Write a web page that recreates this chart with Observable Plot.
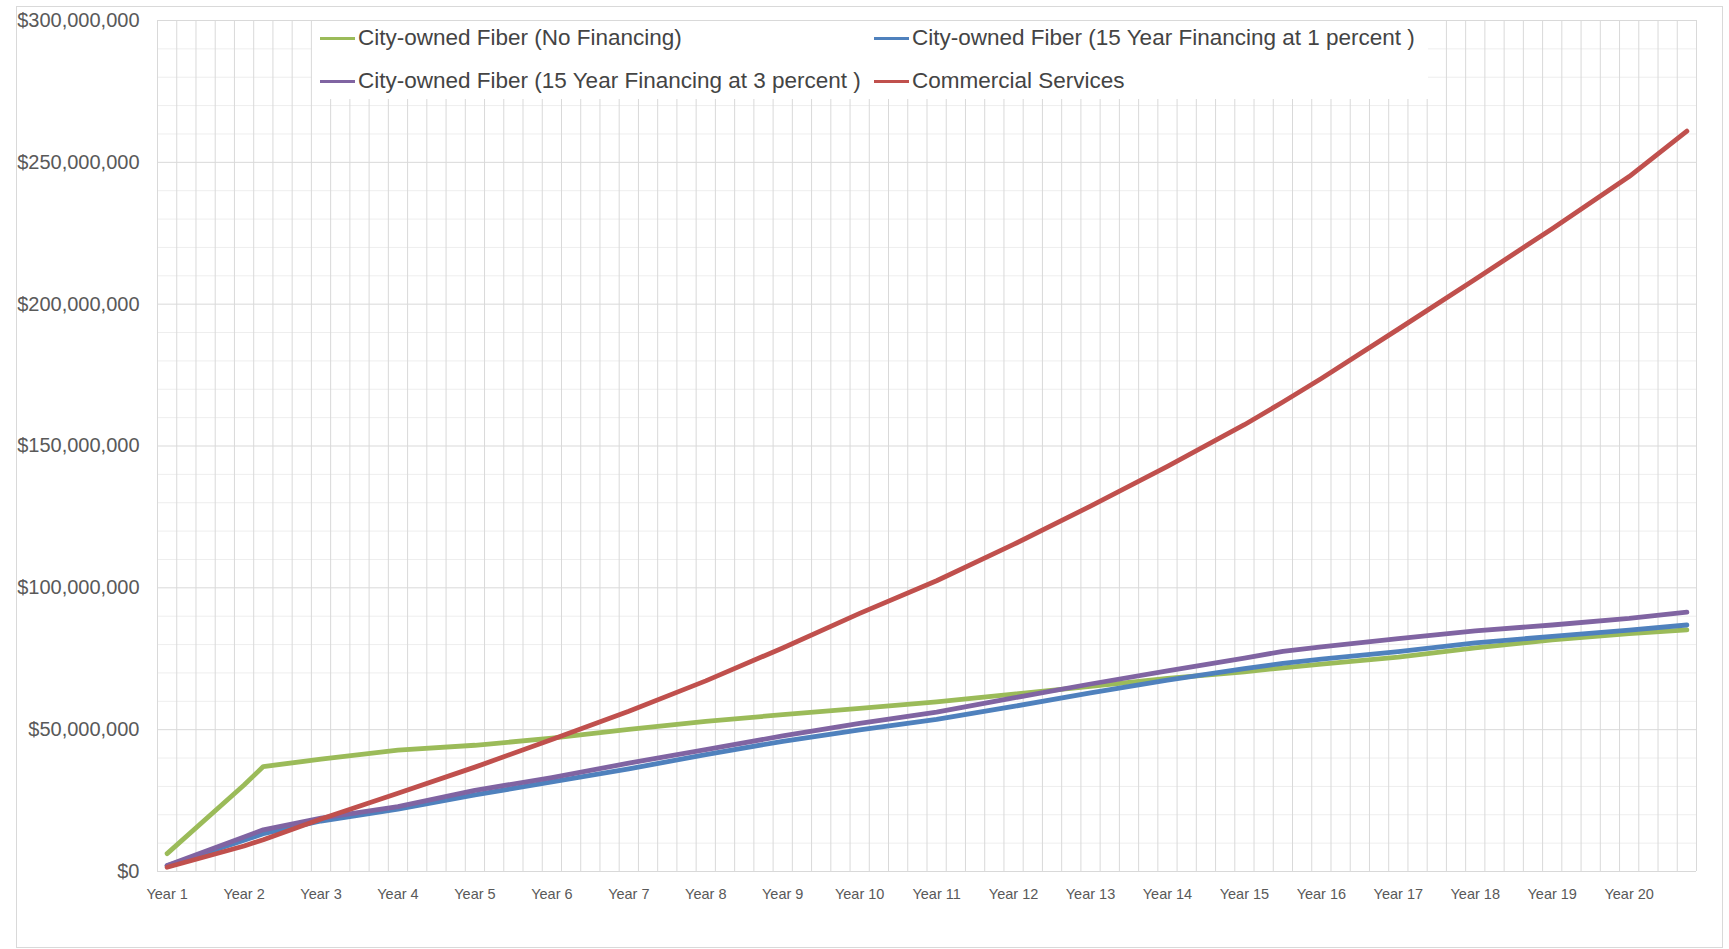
<!DOCTYPE html>
<html>
<head>
<meta charset="utf-8">
<script src="https://cdn.jsdelivr.net/npm/d3@7"></script>
<script src="https://cdn.jsdelivr.net/npm/@observablehq/plot@0.6"></script>
<style>
  html, body { margin: 0; padding: 0; background: #fff; }
  #wrap { position: relative; width: 1729px; height: 949px; font-family: "Liberation Sans", Arial, sans-serif; color: #595959; }
  #wrap svg { position: absolute; left: 0; top: 0; }
  #frame { position: absolute; left: 16px; top: 6px; width: 1707px; height: 942px; border: 1px solid #d9d9d9; box-sizing: border-box; pointer-events: none; }
  #legend { position: absolute; left: 312px; top: 21px; width: 1116px; height: 78px; background: #fff; }
  .item { position: absolute; display: flex; align-items: center; height: 28px; font-size: 22.5px; color: #444444; white-space: nowrap; }
  .sw { width: 35px; height: 3px; margin-right: 3px; flex: none; }
</style>
</head>
<body>
<div id="wrap"></div>
<script>
// ---- data (values in millions of dollars) ----
const quarters = [0, 4, 5, 8, 12, 16, 20, 24, 28, 32, 36, 40, 44, 48, 52, 56, 58, 60, 64, 68, 72, 76, 79];
const noFinancing   = [6.3, 30.5, 37.0, 39.6, 42.8, 44.5, 47.0, 50.1, 52.9, 55.3, 57.5, 59.8, 62.5, 65.3, 68.1, 70.4, 71.8, 73.1, 75.6, 78.8, 81.7, 83.9, 85.2];
const financing1pct = [2.0, 11.0, 13.3, 17.8, 22.0, 27.0, 31.6, 36.2, 41.2, 45.9, 49.9, 53.6, 58.2, 63.0, 67.5, 71.5, 73.4, 74.9, 77.5, 80.6, 82.9, 85.1, 86.9];
const financing3pct = [2.1, 12.2, 14.7, 18.8, 22.9, 28.6, 33.1, 38.2, 43.0, 47.8, 52.2, 56.2, 61.2, 66.1, 70.7, 75.2, 77.6, 79.2, 82.1, 84.8, 86.9, 89.2, 91.4];
const commercial    = [1.5, 9.0, 11.2, 18.5, 27.6, 36.8, 46.5, 56.5, 67.2, 78.8, 91.0, 102.5, 115.3, 128.8, 142.8, 157.5, 165.5, 173.8, 191.2, 208.8, 226.6, 245.0, 261.0];

const seriesNames = [
  "City-owned Fiber (No Financing)",
  "City-owned Fiber (15 Year Financing at 1 percent )",
  "City-owned Fiber (15 Year Financing at 3 percent )",
  "Commercial Services"
];
const seriesColors = ["#9BBB59", "#4F81BD", "#8064A2", "#C0504D"];
const yearLabels = ["Year 1","Year 2","Year 3","Year 4","Year 5","Year 6","Year 7","Year 8","Year 9","Year 10",
                    "Year 11","Year 12","Year 13","Year 14","Year 15","Year 16","Year 17","Year 18","Year 19","Year 20"];
const yTicks = [0, 50, 100, 150, 200, 250, 300];
const quarterCount = 80;
const quartersPerYear = 4;

// ---- build table ----
const seriesValues = [noFinancing, financing1pct, financing3pct, commercial];
const rows = [];
seriesValues.forEach((vals, s) => {
  vals.forEach((v, i) => rows.push({series: seriesNames[s], q: quarters[i] + 0.5, v}));
});
const minorY = d3.range(0, 301, 10).filter(d => d % 50 !== 0);
const gridX = d3.range(0, quarterCount + 1);
const labelTicks = yearLabels.map((_, i) => i * quartersPerYear + 0.5);
const fmt = d3.format(",");

const chart = Plot.plot({
  width: 1729,
  height: 949,
  marginLeft: 157,
  marginRight: 33,
  marginTop: 20,
  marginBottom: 78,
  style: {fontFamily: "Liberation Sans, Arial, sans-serif", background: "transparent", color: "#595959"},
  x: {domain: [0, quarterCount], axis: null},
  y: {domain: [0, 300], axis: null},
  color: {domain: seriesNames, range: seriesColors},
  marks: [
    Plot.ruleY(minorY, {stroke: "#eeeeee", strokeWidth: 1}),
    Plot.ruleX(gridX, {stroke: "#d9d9d9", strokeWidth: 1}),
    Plot.ruleY(yTicks, {stroke: "#d9d9d9", strokeWidth: 1}),
    Plot.line(rows, {x: "q", y: "v", z: "series", stroke: "series", strokeWidth: 4.8, strokeLinejoin: "round", strokeLinecap: "round"}),
    Plot.axisY(yTicks, {label: null, tickSize: 0, tickPadding: 18, fontSize: 20, tickFormat: d => "$" + fmt(d * 1e6)}),
    Plot.axisX(labelTicks, {label: null, tickSize: 0, tickPadding: 17, fontSize: 14.5, tickFormat: d => yearLabels[Math.round((d - 0.5) / quartersPerYear)]})
  ]
});

const wrap = document.getElementById("wrap");
wrap.appendChild(chart);

// legend overlay (Excel-style, inside plot area)
const legend = document.createElement("div");
legend.id = "legend";
const legendPos = [
  {left: 8, top: 3},
  {left: 562, top: 3},
  {left: 8, top: 46},
  {left: 562, top: 46}
];
seriesNames.forEach((name, i) => {
  const it = document.createElement("div");
  it.className = "item";
  it.style.left = legendPos[i].left + "px";
  it.style.top = legendPos[i].top + "px";
  const sw = document.createElement("span");
  sw.className = "sw";
  sw.style.background = seriesColors[i];
  const tx = document.createElement("span");
  tx.textContent = name;
  it.appendChild(sw);
  it.appendChild(tx);
  legend.appendChild(it);
});
wrap.appendChild(legend);

const frame = document.createElement("div");
frame.id = "frame";
wrap.appendChild(frame);
</script>
</body>
</html>
